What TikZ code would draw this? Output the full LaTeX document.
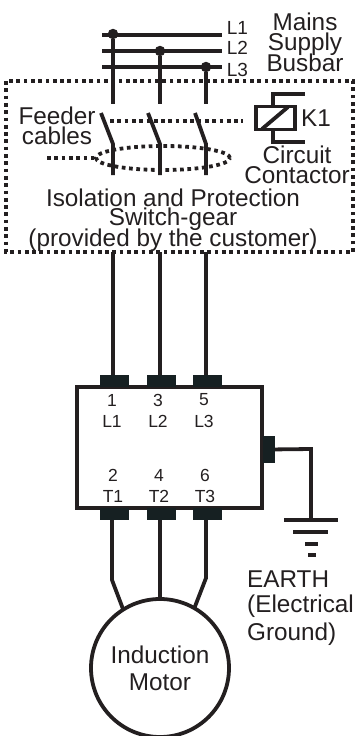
\documentclass[tikz,border=0pt]{standalone}
\usepackage{fontspec}
\setmainfont{Liberation Sans}
\usetikzlibrary{shapes.geometric}
\definecolor{wirecol}{HTML}{231F20}
\definecolor{termcol}{HTML}{162022}
\tikzset{
  wire/.style={line width=3.8pt, draw=wirecol},
  dotline/.style={line width=3.8pt, draw=wirecol, dash pattern=on 3.7pt off 3.6pt},
  labeltext/.style={inner sep=0pt, text=wirecol, font=\fontsize{24.3}{24.3}\selectfont},
  smalltext/.style={inner sep=0pt, text=wirecol, font=\fontsize{19}{19}\selectfont},
  pintext/.style={inner sep=0pt, text=wirecol, font=\fontsize{17.5}{17.5}\selectfont},
  terminal/.style={fill=termcol, inner sep=0pt, minimum width=29pt, minimum height=12pt},
  junction/.style={circle, fill=wirecol, inner sep=0pt, minimum size=10.5pt},
}
\begin{document}
\begin{tikzpicture}[x=1pt, y=-1pt, node distance=20.5pt]
\useasboundingbox (0,0) rectangle (355,736);

% busbar
\coordinate (busa) at (102,35);
\coordinate (busaend) at (222,35);
\coordinate (busb) at (102,51);
\coordinate (busbend) at (222,51);
\coordinate (busc) at (102,67);
\coordinate (buscend) at (222,67);
\draw[wire] (busa) -- (busaend);
\draw[wire] (busb) -- (busbend);
\draw[wire] (busc) -- (buscend);
\node (dota) [junction] at (113,34) {};
\node (dotb) [junction] at (160,51) {};
\node (dotc) [junction] at (206,67) {};
\node (la) [smalltext] at (237.5,28) {L1};
\node (lb) [smalltext] at (237.5,48) {L2};
\node (lc) [smalltext] at (237.5,70) {L3};
\node (mains) [labeltext] at (305,22) {Mains};
\node (supply) [labeltext, below of=mains, yshift=-1.5pt] {Supply};
\node (busbar) [labeltext, below of=supply, yshift=1.5pt] {Busbar};

% switch-gear
\coordinate (boxa) at (6,81);
\coordinate (boxb) at (353,252);
\draw[dotline] (boxa) rectangle (boxb);
\coordinate (feeda) at (113,104);
\coordinate (feedb) at (160,104);
\coordinate (feedc) at (206,104);
\draw[wire] (dota) -- (feeda);
\draw[wire] (dotb) -- (feedb);
\draw[wire] (dotc) -- (feedc);
\coordinate (blada) at (101,113);
\coordinate (bladb) at (148,113);
\coordinate (bladc) at (195,113);
\coordinate (kneea) at (113,144);
\coordinate (kneeb) at (160,144);
\coordinate (kneec) at (206,144);
\coordinate (enda) at (113,175);
\coordinate (endb) at (160,175);
\coordinate (endc) at (206,175);
\draw[wire] (blada) -- (kneea) -- (enda);
\draw[wire] (bladb) -- (kneeb) -- (endb);
\draw[wire] (bladc) -- (kneec) -- (endc);

\node (coil) [rectangle, draw=wirecol, line width=3.8pt, minimum width=39pt, minimum height=23pt, inner sep=0pt] at (275.5,118) {};
\coordinate (slasha) at (262,129);
\coordinate (slashb) at (288,107);
\draw[wire] (slasha) -- (slashb);
\coordinate (linkend) at (243,121);
\coordinate (linkstart) at (110,121);
\draw[dotline] (linkstart) -- (linkend);
\coordinate (coiltop) at (273,94);
\coordinate (coiltopend) at (305,94);
\coordinate (coilbot) at (273,142);
\coordinate (coilbotend) at (305,142);
\draw[wire] (coil.north -| coiltop) -- (coiltop) -- (coiltopend);
\draw[wire] (coil.south -| coilbot) -- (coilbot) -- (coilbotend);
\node (kone) [labeltext] at (316,118) {K1};
\node (circuit) [labeltext] at (297,155) {Circuit};
\node (contactor) [labeltext, below of=circuit] {Contactor};

\node (feeder) [labeltext] at (57,116) {Feeder};
\node (cables) [labeltext, below of=feeder, yshift=1pt] {cables};
\node (ring) [ellipse, dotline, minimum width=134pt, minimum height=24pt, inner sep=0pt] at (163,158) {};
\coordinate (ringlead) at (47,158);
\draw[dotline] (ringlead) -- (ring.west);

\node (isolation) [labeltext] at (173,198) {Isolation and Protection};
\node (switchgear) [labeltext, below of=isolation, yshift=-1pt] {Switch-gear};
\node (customer) [labeltext, below of=switchgear] {(provided by the customer)};

% starter
\node (starter) [rectangle, draw=wirecol, line width=3.5pt, minimum width=185pt, minimum height=121pt, inner sep=0pt] at (169.5,447.5) {};
\node (topa) [terminal] at (114.5,381) {};
\node (topb) [terminal] at (161,381) {};
\node (topc) [terminal] at (207,381) {};
\node (bota) [terminal] at (114.5,514) {};
\node (botb) [terminal] at (161,514) {};
\node (botc) [terminal] at (207,514) {};
\coordinate (cuta) at (113,252);
\coordinate (cutb) at (160,252);
\coordinate (cutc) at (206,252);
\draw[wire] (cuta) -- (cuta |- topa.north);
\draw[wire] (cutb) -- (cutb |- topb.north);
\draw[wire] (cutc) -- (cutc |- topc.north);

\node (pina) [pintext] at (112,400) {1};
\node (pinb) [pintext] at (158,400) {3};
\node (pinc) [pintext] at (204,400) {5};
\node (pinla) [pintext] at (112,421) {L1};
\node (pinlb) [pintext] at (158,421) {L2};
\node (pinlc) [pintext] at (204,421) {L3};
\node (pind) [pintext] at (113,475) {2};
\node (pine) [pintext] at (159,475) {4};
\node (pinf) [pintext] at (205,475) {6};
\node (pinta) [pintext] at (113,496) {T1};
\node (pintb) [pintext] at (159,496) {T2};
\node (pintc) [pintext] at (205,496) {T3};

% motor
\node (motor) [circle, draw=wirecol, line width=3.8pt, minimum size=138pt, inner sep=0pt, align=center, labeltext, font=\fontsize{24.3}{27}\selectfont] at (160,668) {Induction\\Motor};
\coordinate (benda) at (112,580);
\coordinate (bendc) at (206,578);
\coordinate (hita) at (123,609);
\coordinate (hitc) at (194,609);
\draw[wire] (bota.south -| benda) -- (benda) -- (hita);
\draw[wire] (botb.south -| motor) -- (motor.north);
\draw[wire] (botc.south -| bendc) -- (bendc) -- (hitc);

% earth
\node (earthpin) [fill=termcol, inner sep=0pt, minimum width=12pt, minimum height=27pt] at (269,449.5) {};
\coordinate (earthbend) at (311,449);
\coordinate (gnda) at (284,520);
\coordinate (gndaend) at (338,520);
\coordinate (gndmid) at (311,520);
\coordinate (gndb) at (293,532);
\coordinate (gndbend) at (328,532);
\coordinate (gndc) at (305,544);
\coordinate (gndcend) at (318,544);
\coordinate (gndd) at (308,555);
\coordinate (gnddend) at (316,555);
\draw[wire] (earthpin) -- (earthbend) -- (gndmid);
\draw[wire] (gnda) -- (gndaend);
\draw[wire] (gndb) -- (gndbend);
\draw[wire] (gndc) -- (gndcend);
\draw[wire] (gndd) -- (gnddend);
\node (earth) [labeltext, anchor=west] at (247,579) {EARTH};
\node (electrical) [labeltext, anchor=west] at (247,606) {(Electrical};
\node (ground) [labeltext, anchor=west] at (247,634) {Ground)};
\end{tikzpicture}
\end{document}
